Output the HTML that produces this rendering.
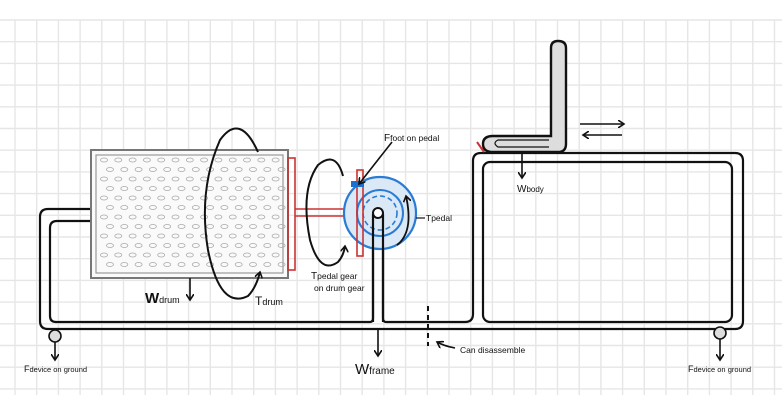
<!DOCTYPE html>
<html><head><meta charset="utf-8"><style>
html,body{margin:0;padding:0;background:#fff;}
svg{display:block;}
text{font-family:"Liberation Sans",sans-serif;fill:#111;}
</style></head><body>
<svg id="dg" width="782" height="402" viewBox="0 0 782 402">
<defs>
<marker id="ah" markerWidth="8" markerHeight="8" refX="6" refY="4" orient="auto" markerUnits="userSpaceOnUse"><path d="M0,0 L6,4 L0,8" fill="none" stroke="#111" stroke-width="1.6"/></marker>
</defs>
<g id="grid"></g>

<!-- left frame tube -->
<g fill="none" stroke="#111" stroke-width="2.2">
<path d="M92,209 L48,209 Q40,209 40,217 L40,321 Q40,329 48,329 L735,329 Q743,329 743,321 L743,161 Q743,153 735,153 L481,153 Q473,153 473,161 L473,314 Q473,322 465,322 L386,322 Q383,322 383,318 L383,214"/>
<path d="M92,221 L57,221 Q50,221 50,228 L50,316 Q50,322 56,322 L370,322 Q373,322 373,318 L373,214 A5,5 0 0 1 383,214"/>
<rect x="483" y="162" width="249" height="160" rx="7"/>
</g>
<circle cx="378" cy="213" r="5" fill="#fff" stroke="#111" stroke-width="2"/>
<line x1="428" y1="306" x2="428" y2="346" stroke="#111" stroke-width="2" stroke-dasharray="5,4"/>

<!-- feet -->
<circle cx="55" cy="336" r="6" fill="#ddd" stroke="#111" stroke-width="1.6"/>
<circle cx="720" cy="333" r="6" fill="#ddd" stroke="#111" stroke-width="1.6"/>
<line x1="55" y1="342" x2="55" y2="360" stroke="#111" stroke-width="1.6" marker-end="url(#ah)"/>
<line x1="720" y1="339" x2="720" y2="360" stroke="#111" stroke-width="1.6" marker-end="url(#ah)"/>

<!-- drum -->
<rect x="91" y="150" width="197" height="128" fill="#fafafa" stroke="#777" stroke-width="2"/>
<rect x="96" y="155" width="187" height="118" fill="none" stroke="#999" stroke-width="1.2"/>
<g id="holes"></g>
<rect x="288" y="158" width="7" height="112" fill="none" stroke="#c33" stroke-width="1.6"/>
<path d="M295,209 L358,209 M295,216 L358,216" stroke="#c33" stroke-width="1.6"/>

<!-- pedal -->
<circle cx="380" cy="213" r="36" fill="#dbe9f7" stroke="#2a7bd4" stroke-width="2.2"/>
<circle cx="380" cy="213" r="23" fill="none" stroke="#2a7bd4" stroke-width="2"/>
<circle cx="380" cy="213" r="17" fill="none" stroke="#2a7bd4" stroke-width="1.6" stroke-dasharray="5,3"/>
<rect x="357" y="170" width="6" height="86" fill="none" stroke="#c33" stroke-width="1.6"/>
<rect x="351" y="181" width="13" height="6" fill="#1a6fd0"/>
<path d="M373,214 L373,322 M383,214 L383,322" stroke="#111" stroke-width="2.2"/>
<circle cx="378" cy="213" r="5" fill="#fff" stroke="#111" stroke-width="2"/>
<path d="M397,245 Q414,232 406,196" fill="none" stroke="#111" stroke-width="1.8" marker-end="url(#ah)"/>
<line x1="416" y1="218" x2="425" y2="218" stroke="#111" stroke-width="1.2"/>
<line x1="392" y1="142" x2="359" y2="184" stroke="#111" stroke-width="1.6" marker-end="url(#ah)"/>

<!-- rotation arrows -->
<path d="M258,152 Q240,112 220,140 Q198,190 208,250 Q220,310 248,296 Q256,288 260,272" fill="none" stroke="#111" stroke-width="2" marker-end="url(#ah)"/>
<path d="M343,176 Q336,150 318,165 Q300,190 310,240 Q320,275 338,262 Q344,255 345,246" fill="none" stroke="#111" stroke-width="2" marker-end="url(#ah)"/>

<!-- seat -->
<path d="M551,48 Q551,41 558,41 Q566,41 566,48 L566,144 Q566,152 558,152 L493,152 Q483,152 483,144 Q483,136 493,136 L551,136 Z" fill="#ddd" stroke="#111" stroke-width="2.4"/>
<path d="M549,140 L498,140 Q492,143 498,147 L549,147" fill="none" stroke="#111" stroke-width="1.2"/>
<line x1="477" y1="142" x2="484" y2="152" stroke="#c33" stroke-width="2"/>
<line x1="580" y1="124" x2="624" y2="124" stroke="#111" stroke-width="1.6" marker-end="url(#ah)"/>
<line x1="622" y1="135" x2="583" y2="135" stroke="#111" stroke-width="1.6" marker-end="url(#ah)"/>
<line x1="522" y1="152" x2="522" y2="178" stroke="#111" stroke-width="1.6" marker-end="url(#ah)"/>

<!-- weights -->
<line x1="190" y1="278" x2="190" y2="300" stroke="#111" stroke-width="1.6" marker-end="url(#ah)"/>
<line x1="378" y1="330" x2="378" y2="356" stroke="#111" stroke-width="1.6" marker-end="url(#ah)"/>
<path d="M455,348 Q444,346 437,342" fill="none" stroke="#111" stroke-width="1.6" marker-end="url(#ah)"/>

<!-- labels -->
<text x="145" y="303" font-size="15" font-weight="bold">W<tspan font-size="9" font-weight="normal">drum</tspan></text>
<text x="255" y="305" font-size="12">T<tspan font-size="9">drum</tspan></text>
<text x="311" y="279" font-size="10">T<tspan font-size="8.5">pedal gear</tspan></text>
<text x="314" y="291" font-size="8.5">on drum gear</text>
<text x="384" y="141" font-size="10">F<tspan font-size="8.5">foot on pedal</tspan></text>
<text x="426" y="221" font-size="8.5">Tpedal</text>
<text x="517" y="192" font-size="10">W<tspan font-size="8">body</tspan></text>
<text x="355" y="374" font-size="15">W<tspan font-size="10">frame</tspan></text>
<text x="460" y="353" font-size="8.5">Can disassemble</text>
<text x="24" y="372" font-size="9">F<tspan font-size="7.5">device on ground</tspan></text>
<text x="688" y="372" font-size="9">F<tspan font-size="7.5">device on ground</tspan></text>
</svg>
<script>
var NS="http://www.w3.org/2000/svg";
var g=document.getElementById('grid');
for(var x=15;x<=775;x+=21.7){var l=document.createElementNS(NS,'line');l.setAttribute('x1',x);l.setAttribute('x2',x);l.setAttribute('y1',20);l.setAttribute('y2',395);l.setAttribute('stroke','#e6e6e6');l.setAttribute('stroke-width','1.4');


g.appendChild(l);}
for(var y=20;y<=395;y+=21.7){var l=document.createElementNS(NS,'line');l.setAttribute('y1',y);l.setAttribute('y2',y);l.setAttribute('x1',0);l.setAttribute('x2',782);l.setAttribute('stroke','#e6e6e6');l.setAttribute('stroke-width','1.4');


g.appendChild(l);}
var h=document.getElementById('holes');
for(var r=0;r<12;r++){for(var c=0;c<13;c++){var e=document.createElementNS(NS,'ellipse');
e.setAttribute('cx',104+c*14.3+(r%2?6:0));e.setAttribute('cy',160+r*9.5);e.setAttribute('rx',3.5);e.setAttribute('ry',2);
e.setAttribute('fill','none');e.setAttribute('stroke','#aaa');e.setAttribute('stroke-width','0.8');


h.appendChild(e);}}
</script>
</body></html>
